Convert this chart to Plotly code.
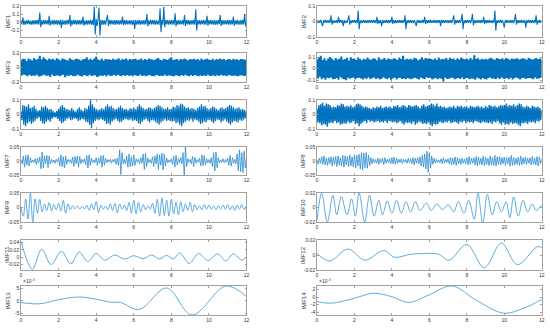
import plotly.graph_objects as go

# ---------------- data (values in units of 1e-3 where noted) ----------------
# IMF1..IMF6: 241 samples on 0..12 s (rows = 1 s)
imf1_milli = [
    20,-25,60,-30,22,-28,25,-20,30,-25,18,-27,24,-30,28,-22,26,-24,30,-28,
    120,-60,25,-30,28,-22,30,-26,24,-28,80,-40,22,-25,30,-28,26,-24,28,-30,
    25,-28,30,-70,26,-24,22,-30,28,-25,30,-26,90,-50,24,-28,30,-22,26,-30,
    28,-24,26,-30,30,-25,70,-40,22,-28,26,-30,24,-26,30,-28,25,-35,190,-150,
    40,-45,35,180,-160,30,-28,26,-30,24,-28,22,90,-45,30,-26,28,-24,25,-30,
    30,-28,26,-25,28,-30,24,-22,70,-35,26,-28,30,-25,22,-26,28,-30,24,-28,
    26,-80,28,-30,25,-24,30,-28,22,-26,28,-30,26,-25,100,-50,24,-28,30,-26,
    28,-25,30,-28,24,-26,22,-30,170,-120,30,-28,190,-60,26,-24,28,-30,25,-26,
    30,-28,26,-30,110,-50,24,-28,30,-25,22,-26,28,-30,90,-45,26,-24,30,-28,
    25,-30,28,-26,30,-28,160,-100,24,-26,28,-30,25,-22,30,-28,26,-30,80,-40,
    28,-26,30,-25,24,-28,26,-30,22,-28,30,-24,90,-45,26,-30,28,-25,24,-26,
    30,-28,26,-30,28,-24,70,-40,25,-26,30,-28,24,-30,26,-28,30,-25,100,-50,
    20]
imf2_milli = [
    8,-10,6,-9,10,-8,-30,9,-7,10,-8,6,-9,10,-8,40,-20,8,-10,7,
    -9,8,-10,30,-8,10,-7,9,-30,8,-10,6,-9,10,40,-20,8,-10,9,-7,
    10,-8,9,-10,70,-50,8,-10,7,-9,10,-8,6,-10,9,-8,10,-7,8,-9,
    10,-8,9,-10,30,-15,8,-10,9,-30,8,-10,7,-9,10,-8,9,-10,8,-7,
    30,-15,9,-10,8,-10,7,-9,10,-8,9,-10,8,-7,40,-50,9,-10,8,-9,
    10,-8,7,-10,9,-8,-30,10,-9,8,-10,7,-9,10,-8,30,-15,9,-10,8,
    -9,10,-8,7,-9,10,-8,9,-10,8,-7,9,-30,10,-8,9,-10,8,-7,9,
    -10,8,-9,10,-8,7,40,-20,9,-10,8,-9,10,-8,9,50,-50,8,-10,9,
    -8,10,-7,9,-10,8,50,-25,9,-10,7,-9,10,-8,9,-10,8,-7,30,-15,
    9,-10,8,-9,10,-8,7,-10,9,-8,70,-60,8,-10,9,-7,10,-8,9,-10,
    -40,8,-9,10,-8,7,-9,10,-8,9,-10,8,50,-20,9,-10,8,-9,10,-8,
    7,-9,10,-40,8,-9,10,-8,9,-10,8,-7,9,-10,40,-20,8,-9,10,-8,
    6]
imf3_milli = [
    100,-110,120,-95,115,-105,90,-120,125,-100,110,-115,95,-108,130,-112,105,-98,118,-125,
    160,-120,110,-105,140,-100,115,-118,98,-110,125,-130,108,-96,120,-115,100,-112,128,-105,
    112,-120,95,-108,122,-100,118,-135,104,-110,96,-118,126,-102,110,-115,99,-120,115,-108,
    120,-100,108,-115,95,-125,112,-102,118,-110,140,-120,105,-98,120,-116,102,-110,125,-105,
    150,-130,110,-120,100,-108,122,-115,96,-104,118,-122,108,-100,114,-118,102,-112,120,-99,
    105,-118,112,-100,126,-110,98,-120,115,-104,108,-116,122,-102,100,-114,118,-108,110,-120,
    115,-102,120,-112,104,-118,110,-100,125,-115,98,-108,118,-120,102,-110,124,-104,112,-116,
    108,-120,100,-110,118,-104,130,-115,106,-112,99,-118,120,-100,112,-116,104,-108,122,-110,
    140,-115,102,-120,110,-106,118,-112,100,-120,115,-104,108,-118,122,-100,110,-114,98,-120,
    116,-104,110,-118,120,-102,106,-112,118,-120,100,-108,125,-115,104,-110,112,-118,120,-100,
    110,-116,104,-112,120,-108,98,-120,115,-104,110,-118,124,-100,108,-114,116,-110,100,-120,
    112,-104,118,-110,102,-116,120,-108,106,-112,114,-120,100,-110,118,-106,112,-115,108,-112,
    100]
imf4_milli = [
    80,-85,95,-70,110,-90,75,-80,90,-95,70,-78,88,-82,100,-75,85,-90,72,-88,
    92,-80,78,-95,85,-72,105,-84,76,-90,82,-100,94,-78,70,-86,98,-80,84,-76,
    88,-92,74,-80,96,-78,82,-85,72,-94,86,-80,78,-88,95,-74,80,-90,76,-82,
    90,-76,84,-88,72,-80,98,-92,78,-86,80,-74,92,-84,76,-90,88,-78,82,-95,
    78,-84,90,-76,85,-92,74,-80,96,-78,82,-88,110,-84,76,-90,86,-80,78,-86,
    84,-90,76,-82,94,-78,88,-86,72,-92,80,-76,98,-84,78,-88,92,-74,86,-80,
    90,-78,82,-94,76,-84,88,-80,74,-90,96,-82,78,-86,84,-110,80,-76,92,-88,
    76,-86,94,-80,82,-78,88,-92,74,-84,90,-80,78,-88,96,-76,84,-90,80,-82,
    88,-80,76,-90,92,-84,78,-86,115,-95,82,-78,90,-84,76,-92,86,-80,78,-88,
    84,-92,78,-80,88,-76,94,-86,80,-84,76,-90,92,-78,84,-88,80,-76,90,-84,
    78,-86,92,-80,84,-90,76,-78,88,-94,82,-80,86,-76,90,-84,78,-92,84,-80,
    90,-78,84,-88,76,-82,94,-80,86,-84,78,-90,82,-76,92,-86,80,-84,88,-78,
    80]
imf5_milli = [
    20,-40,65,-70,60,-80,55,-60,70,-50,45,-65,50,-55,60,-45,40,-30,25,-20,
    30,-45,55,-60,50,-65,60,-50,45,-40,35,-50,40,-30,25,-20,15,-20,25,-30,
    40,-45,55,-60,65,-55,50,-45,40,-30,35,-25,30,-40,45,-35,30,-25,20,-30,
    35,-45,50,-40,35,-30,25,-35,45,-50,40,-55,60,-70,100,-95,70,-60,50,-45,
    40,-35,30,-40,35,-30,45,-40,35,-45,55,-65,70,-60,55,-70,60,-50,45,-40,
    35,-30,40,-45,50,-55,60,-50,45,-40,35,-30,40,-35,30,-40,45,-35,40,-45,
    50,-40,35,-45,55,-60,70,-65,55,-50,45,-40,35,-30,40,-45,50,-55,45,-40,
    35,-40,45,-50,55,-60,65,-70,60,-55,50,-45,40,-35,40,-45,50,-40,35,-45,
    40,-50,55,-45,50,-60,65,-55,60,-70,75,-80,70,-60,55,-50,45,-40,50,-45,
    40,-35,45,-50,40,-35,30,-40,45,-50,55,-65,70,-60,55,-50,60,-55,45,-40,
    35,-40,45,-50,55,-60,50,-45,40,-35,30,-40,45,-55,50,-45,40,-35,45,-50,
    55,-60,65,-70,60,-55,50,-45,40,-50,45,-55,50,-40,35,-45,40,-35,30,-25,
    20]
imf6_milli = [
    40,-55,65,-60,70,-75,80,-65,60,-70,75,-85,70,-60,65,-55,50,-60,55,-45,
    50,-60,65,-55,60,-70,75,-65,70,-60,55,-65,60,-50,55,-60,65,-55,50,-45,
    55,-65,70,-60,75,-80,70,-65,60,-55,50,-45,55,-60,50,-40,45,-50,40,-45,
    50,-55,45,-50,55,-45,50,-55,60,-50,45,-55,50,-45,55,-60,50,-45,55,-50,
    45,-55,60,-50,55,-60,65,-55,50,-45,55,-60,65,-70,60,-55,50,-60,65,-55,
    60,-65,55,-50,60,-70,65,-60,55,-50,45,-55,60,-65,70,-60,55,-65,60,-55,
    65,-70,75,-80,70,-65,60,-70,75,-65,55,-50,60,-55,50,-60,55,-50,45,-55,
    50,-45,55,-60,50,-55,60,-50,45,-55,60,-65,55,-50,60,-55,50,-45,55,-60,
    55,-50,45,-55,60,-50,55,-60,50,-45,55,-50,60,-55,50,-60,55,-50,45,-55,
    60,-55,50,-60,65,-55,60,-65,55,-50,60,-55,50,-45,55,-60,65,-70,60,-55,
    65,-70,75,-65,60,-70,65,-55,60,-65,70,-60,55,-60,65,-70,75,-80,70,-60,
    55,-60,50,-55,60,-65,55,-50,45,-55,60,-50,55,-60,50,-45,55,-50,45,-40,
    30]
# IMF7, IMF8: 193 samples on 0..12 s (rows = 1 s)
imf7_milli = [
    5,-10,18,-22,20,-15,22,-18,12,-6,4,-5,8,-12,10,-6,
    15,-28,32,-25,18,-10,20,-24,18,-10,6,-5,4,-8,6,-4,
    12,-18,22,-20,15,-24,18,-12,6,-4,5,-8,14,-20,16,-10,
    18,-22,16,-10,6,-5,8,-14,20,-25,22,-16,10,-6,4,-6,
    12,-15,10,-8,18,-22,20,-15,10,-6,5,-4,6,-8,5,-4,
    8,-12,10,-15,40,-48,30,-10,6,-10,18,-22,25,-20,15,-18,
    22,-16,8,-5,6,-10,12,-8,25,-30,28,-20,10,-6,5,-8,
    15,-20,18,-10,25,-30,22,-15,28,-32,25,-18,10,-6,4,-5,
    8,-12,18,-22,20,-14,8,-6,12,-10,30,-55,52,-20,8,-5,
    6,-10,16,-20,14,-8,5,-4,10,-18,22,-16,20,-14,8,-6,
    5,-8,12,-20,30,-35,32,-24,12,-6,4,-5,8,-6,5,-4,
    10,-15,20,-18,12,-8,6,-10,25,-35,40,-38,30,-42,35,-25,
    10]
imf8_milli = [
    5,-12,10,-8,15,-12,18,-14,10,-16,12,-10,15,-18,14,-12,
    16,-20,18,-15,12,-18,20,-22,18,-14,16,-20,22,-18,15,-20,
    22,-25,20,-18,24,-28,30,-32,28,-24,30,-26,20,-16,12,-10,
    8,-6,5,-8,10,-12,8,-6,10,-14,12,-8,6,-5,8,-10,
    12,-10,14,-12,10,-8,6,-5,8,-10,6,-4,5,-8,10,-6,
    8,-10,12,-14,10,-8,12,-10,15,-18,20,-22,25,-28,35,-40,
    30,-25,18,-12,10,-8,6,-5,4,-6,8,-10,12,-8,6,-5,
    8,-10,12,-14,10,-12,14,-16,12,-10,8,-12,10,-8,6,-10,
    12,-14,16,-12,10,-8,12,-14,16,-18,14,-12,10,-14,18,-16,
    14,-12,10,-16,18,-14,12,-16,20,-18,15,-12,16,-14,12,-10,
    14,-16,12,-10,14,-18,20,-16,12,-14,10,-12,14,-16,18,-14,
    12,-10,14,-12,10,-8,12,-14,16,-12,10,-14,16,-18,14,-10,
    8]
# IMF9: 97 extrema-samples on 0..12 s (rows = 1 s)
imf9_milli = [
    0,-30,30,-40,50,-50,30,-20,
    28,-15,12,-10,18,-12,10,-8,
    15,-12,25,-20,12,-8,6,-5,
    5,-6,4,-5,8,-10,12,-8,
    20,-18,8,-6,5,-8,12,-10,
    14,-18,12,-6,8,-10,18,-20,
    25,-22,18,-15,10,-8,6,-5,
    15,-20,28,-30,32,-28,25,-30,
    28,-22,18,-25,20,-15,12,-10,
    18,-15,10,-8,6,-8,10,-6,
    8,-6,5,-8,6,-5,8,-6,
    10,-8,6,-10,8,-6,10,-8,
    5]
# IMF10..IMF14: turning points (time in s, value)
imf10_t = [0, 0.25, 0.55, 0.85, 1.05, 1.3, 1.6, 1.85, 2.05, 2.25, 2.55, 2.8, 3.05, 3.3,
           3.5, 3.75, 4.0, 4.25, 4.5, 4.75, 5.0, 5.25, 5.5, 5.85, 6.1, 6.4, 6.7, 7.0,
           7.3, 7.55, 7.85, 8.1, 8.4, 8.6, 8.85, 9.1, 9.35, 9.6, 9.85, 10.1, 10.3,
           10.5, 10.75, 11.0, 11.25, 11.5, 11.7, 12]
imf10_milli = [-18, 20, -20, 17, -10, 15, -10, 12, -12, 20, -20, 17, -12, 10, -10, 9,
               -8, 10, -8, 8, -6, 8, -4, 6, -4, 5, -3, 4, -6, 8, -8, 10, -16, 20, -22,
               18, -10, 8, -6, 8, -14, 15, -12, 10, -6, 5, -4, 4]
imf11_t = [0, 0.6, 1.1, 1.6, 2.15, 2.65, 3.1, 3.55, 4.0, 4.45, 5.0, 5.5, 6.0, 6.5, 6.95,
           7.35, 7.75, 8.1, 8.45, 8.95, 9.45, 9.95, 10.45, 10.9, 11.3, 11.75, 12]
imf11_milli = [44, -33, 22, -20, 16, -18, 14, -12, 10, -8, 6, -5, 4, -4, 6, -5, 5, -5,
               12, -17, 10, -9, 9, -10, 9, -8, 2]
imf12_t = [0, 0.68, 1.65, 2.56, 3.55, 4.15, 5.0, 5.7, 6.5, 7.05, 8.0, 8.93, 9.85, 10.7,
           11.75, 12]
imf12_milli = [2, -8, 8, -7, 6, -3, 1, 2, 1, -7, 14, -17, 16, -13, 11, 10]
imf13_t = [0, 1.0, 2.0, 3.1, 4.0, 4.7, 5.3, 6.3, 7.75, 9.1, 10.9, 12]
imf13_milli = [-0.7, -1.2, 0.5, 1.6, 0.7, -0.5, -0.7, -3.5, 5.3, -5.8, 6.1, 1.8]
imf14_t = [0, 0.8, 2.0, 3.0, 4.0, 4.9, 6.0, 7.2, 8.5, 9.95, 11.0, 12]
imf14_milli = [-1.2, -1.6, -0.3, 1.0, 0.1, -1.4, 0.6, 2.9, -0.8, -4.2, -3.0, -0.6]

imf_names = ["IMF1", "IMF2", "IMF3", "IMF4", "IMF5", "IMF6", "IMF7",
             "IMF8", "IMF9", "IMF10", "IMF11", "IMF12", "IMF13", "IMF14"]

y_ranges = [[-0.18, 0.2], [-0.1, 0.1], [-0.2, 0.2], [-0.115, 0.135], [-0.1, 0.1],
            [-0.1, 0.1], [-0.05, 0.05], [-0.05, 0.05], [-0.05, 0.05], [-0.02, 0.02],
            [-0.035, 0.047], [-0.02, 0.02], [-0.0058, 0.0061], [-0.0047, 0.0029]]
y_tickvals = [[-0.1, 0, 0.1, 0.2], [-0.1, 0, 0.1], [-0.2, 0, 0.2], [-0.1, 0, 0.1],
              [-0.1, 0, 0.1], [-0.1, 0, 0.1], [-0.05, 0, 0.05], [-0.05, 0, 0.05],
              [-0.05, 0, 0.05], [-0.02, 0, 0.02], [-0.02, 0, 0.02, 0.04],
              [-0.02, 0, 0.02], [-0.005, 0, 0.005], [-0.004, -0.002, 0, 0.002]]
y_ticktext = [["-0.1", "0", "0.1", "0.2"], ["-0.1", "0", "0.1"], ["-0.2", "0", "0.2"],
              ["-0.1", "0", "0.1"], ["-0.1", "0", "0.1"], ["-0.1", "0", "0.1"],
              ["-0.05", "0", "0.05"], ["-0.05", "0", "0.05"], ["-0.05", "0", "0.05"],
              ["-0.02", "0", "0.02"], ["-0.02", "0", "0.02", "0.04"],
              ["-0.02", "0", "0.02"], ["-5", "0", "5"], ["-4", "-2", "0", "2"]]
x_tickvals = [0, 2, 4, 6, 8, 10, 12]


def grid(n):
    return [12 * i / (n - 1) for i in range(n)]


def scaled(vals):
    return [v / 1000 for v in vals]


series = [
    (grid(len(imf1_milli)), scaled(imf1_milli)),
    (grid(len(imf2_milli)), scaled(imf2_milli)),
    (grid(len(imf3_milli)), scaled(imf3_milli)),
    (grid(len(imf4_milli)), scaled(imf4_milli)),
    (grid(len(imf5_milli)), scaled(imf5_milli)),
    (grid(len(imf6_milli)), scaled(imf6_milli)),
    (grid(len(imf7_milli)), scaled(imf7_milli)),
    (grid(len(imf8_milli)), scaled(imf8_milli)),
    (grid(len(imf9_milli)), scaled(imf9_milli)),
    (imf10_t, scaled(imf10_milli)),
    (imf11_t, scaled(imf11_milli)),
    (imf12_t, scaled(imf12_milli)),
    (imf13_t, scaled(imf13_milli)),
    (imf14_t, scaled(imf14_milli)),
]

# ---------------- layout ----------------
W, H = 550, 328
col_px = [(21, 246.5), (317, 541.7)]
row_px = [(6, 37), (53, 82), (100, 129), (147, 175), (193, 222), (240, 270), (286, 315)]
title_x_px = [7, 303]
line_widths = [1.1, 1.1, 2.0, 2.0, 1.2, 1.4, 0.8, 0.8, 0.9, 0.9, 0.9, 0.9, 0.9, 0.9]
line_colors = ["#0072BD"] * 6 + ["#2a8bd0"] * 2 + ["#4aa3e0"] * 6

FONT = "Liberation Sans, Arial, sans-serif"
AXCOL = "#8a8a8a"
TXT = "#333333"

fig = go.Figure()
layout = dict(
    width=W, height=H, margin=dict(l=0, r=0, t=0, b=0, autoexpand=False),
    paper_bgcolor="white", plot_bgcolor="white", showlegend=False,
    font=dict(family=FONT, size=5, color=TXT),
)
annotations = []

for k in range(14):
    idx = k + 1
    col = k % 2
    row = k // 2
    xs, ys = series[k]
    xname = "x" if idx == 1 else f"x{idx}"
    yname = "y" if idx == 1 else f"y{idx}"
    smooth = k >= 8
    fig.add_trace(go.Scatter(
        x=xs, y=ys, mode="lines", xaxis=xname, yaxis=yname,
        line=dict(color=line_colors[k], width=line_widths[k],
                  shape="spline" if smooth else "linear"),
        hoverinfo="skip"))
    x0, x1 = col_px[col]
    y0, y1 = row_px[row]
    common = dict(showline=True, linecolor=AXCOL, linewidth=0.8, mirror="ticks",
                  ticks="inside", ticklen=2, tickcolor=AXCOL, tickwidth=0.8,
                  showgrid=False, zeroline=False, automargin=False,
                  tickfont=dict(family=FONT, size=5, color=TXT))
    layout["xaxis" if idx == 1 else f"xaxis{idx}"] = dict(
        domain=[x0 / W, x1 / W], range=[0, 12], tickvals=x_tickvals,
        anchor=yname, **common)
    layout["yaxis" if idx == 1 else f"yaxis{idx}"] = dict(
        domain=[1 - y1 / H, 1 - y0 / H], range=y_ranges[k],
        tickvals=y_tickvals[k], ticktext=y_ticktext[k], anchor=xname,
        **common)
    annotations.append(dict(
        x=title_x_px[col] / W, y=1 - (y0 + y1) / 2 / H, xref="paper", yref="paper",
        xanchor="center", yanchor="middle", textangle=-90, showarrow=False,
        text=imf_names[k], font=dict(family=FONT, size=6, color=TXT)))

for k in (12, 13):
    col = k % 2
    row = k // 2
    x0 = col_px[col][0]
    y0 = row_px[row][0]
    annotations.append(dict(
        x=x0 / W, y=1 - y0 / H, xref="paper", yref="paper", xanchor="left",
        yanchor="bottom", showarrow=False, text="×10<sup>-3</sup>",
        font=dict(family=FONT, size=5, color=TXT)))
layout["annotations"] = annotations

fig.update_layout(**layout)
fig.write_html("out.html", config={"displayModeBar": False, "staticPlot": True},
               post_script="document.body.style.margin='0';document.body.style.overflow='hidden';")
